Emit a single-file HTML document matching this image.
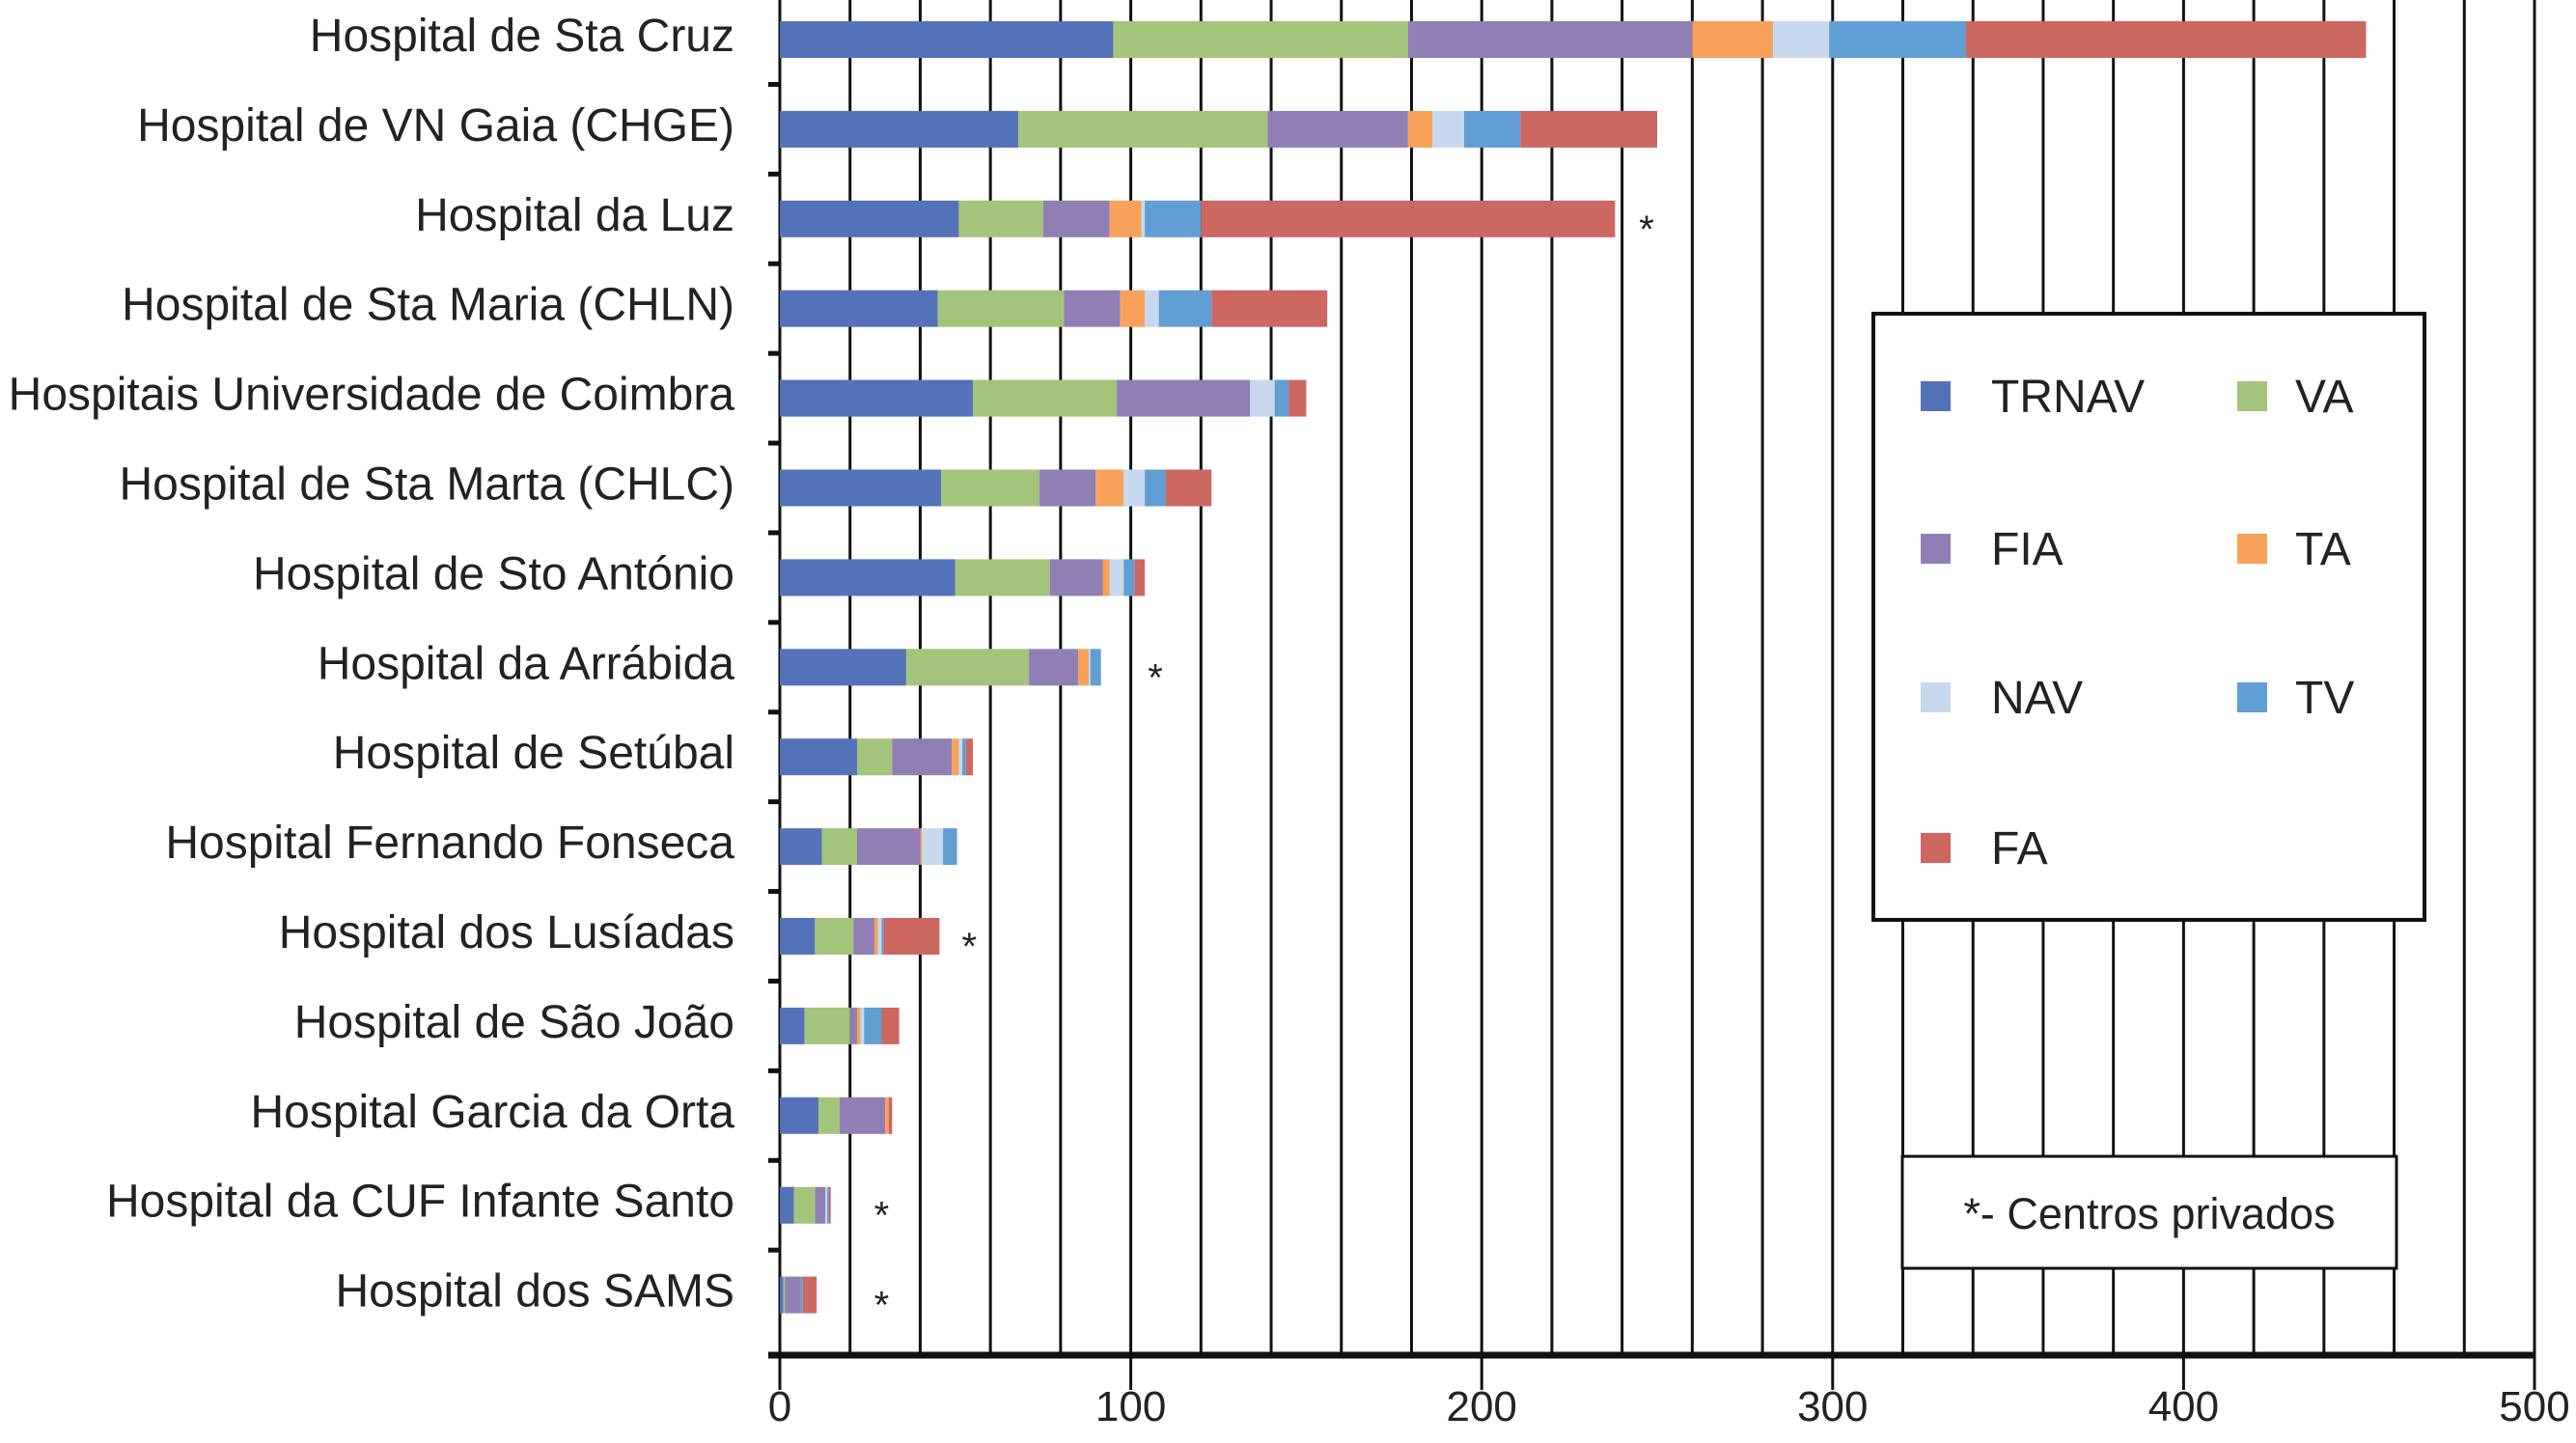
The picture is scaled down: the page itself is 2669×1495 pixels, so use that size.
<!DOCTYPE html>
<html><head><meta charset="utf-8"><style>
html,body{margin:0;padding:0;background:#fff;}
svg{display:block;font-family:"Liberation Sans",sans-serif;}
</style></head><body>
<svg id="chart" width="2669" height="1495" viewBox="0 0 2669 1495" xmlns="http://www.w3.org/2000/svg"></svg>
<script>
const categories = ["Hospital de Sta Cruz","Hospital de VN Gaia (CHGE)","Hospital da Luz","Hospital de Sta Maria (CHLN)","Hospitais Universidade de Coimbra","Hospital de Sta Marta (CHLC)","Hospital de Sto António","Hospital da Arrábida","Hospital de Setúbal","Hospital Fernando Fonseca","Hospital dos Lusíadas","Hospital de São João","Hospital Garcia da Orta","Hospital da CUF Infante Santo","Hospital dos SAMS"];
const seriesNames = ["TRNAV","VA","FIA","TA","NAV","TV","FA"];
const TRNAV = [95,68,51,45,55,46,50,36,22,12,10,7,11,4,1];
const VA    = [84,71,24,36,41,28,27,35,10,10,11,13,6,6,0.5];
const FIA   = [81,40,19,16,38,16,15,14,17,18,6,2,13,3,4.5];
const TA    = [23,7,9,7,0,8,2,3,2,0.5,1,1,1,0,0];
const NAV   = [16,9,1,4,7,6,4,0.5,1,6,1,1,0,0.5,0];
const TV    = [39,16,16,15,4,6,3,3,1,4,0.5,5,0,0.5,0.5];
const FA    = [114,39,118,33,5,13,3,0,2,0,16,5,1,0.5,4];
const privateMarkerAt = [null,null,247,null,null,null,null,107,null,null,54,null,null,29,29];
const xTicks = [0,100,200,300,400,500];
const colors = ["#5472b8","#a3c47b","#907fb4","#f8a15a","#c6d9ef","#609ed3","#cc6762"];
const series = [TRNAV,VA,FIA,TA,NAV,TV,FA];

const svg = document.getElementById('chart');
const NS = "http://www.w3.org/2000/svg";
const X0 = 808, X1 = 2626, YTOP = 0, YAX = 1404;
const x = v => X0 + (v/500)*(X1-X0);
const band = 92.9;
const yc = i => 41 + band*i;
function mk(tag, attrs){const e=document.createElementNS(NS,tag);for(const k in attrs)e.setAttribute(k,attrs[k]);svg.appendChild(e);return e;}

for(let v=20; v<=500; v+=20){
  const g = mk('line',{x1:x(v),x2:x(v),y1:YTOP,y2:YAX,stroke:'#111','stroke-width':3});
  
  
}
const ya = mk('line',{x1:X0,x2:X0,y1:YTOP,y2:YAX,stroke:'#111','stroke-width':3});


for(let i=0;i<categories.length;i++){
  const ty = yc(i)-band/2;
  const t = mk('line',{x1:X0-12,x2:X0,y1:ty,y2:ty,stroke:'#111','stroke-width':5});
  
  
}
categories.forEach((c,i)=>{
  let acc=0;
  series.forEach((s,k)=>{
    const v=s[i];
    if(v>0){
      const r = mk('rect',{x:x(acc),y:yc(i)-19,width:x(acc+v)-x(acc),height:38,fill:colors[k]});
      
      
    }
    acc+=v;
  });
  const lab = mk('text',{x:761,y:yc(i)+12,'text-anchor':'end','font-size':48,fill:'#222'});
  lab.textContent=c;
  
  
  if(privateMarkerAt[i]!==null){
    const st = mk('text',{x:x(privateMarkerAt[i]),y:yc(i)+24,'text-anchor':'middle','font-size':40,fill:'#222'});
    st.textContent='*';
    
    
  }
});
const xa = mk('line',{x1:X0-12,x2:X1,y1:YAX,y2:YAX,stroke:'#111','stroke-width':7});


xTicks.forEach(v=>{
  const t = mk('line',{x1:x(v),x2:x(v),y1:YAX,y2:YAX+36,stroke:'#111','stroke-width':3});
  
  
  const tl = mk('text',{x:x(v),y:1472,'text-anchor':'middle','font-size':44,fill:'#222'});
  tl.textContent=v;
  
  
});
const lb = mk('rect',{x:1941,y:325,width:571,height:628,fill:'#fff',stroke:'#111','stroke-width':4});


const rows=[410,568,722,878];
seriesNames.forEach((n,k)=>{
  const col=k%2,row=Math.floor(k/2);
  const sx= col? 2318:1990, tx= col? 2378:2063;
  const sq = mk('rect',{x:sx,y:rows[row]-15,width:31,height:31,fill:colors[k]});
  
  
  const t = mk('text',{x:tx,y:rows[row]+17,'font-size':48,fill:'#222'});
  t.textContent=n;
  
  
});
const nb = mk('rect',{x:1971,y:1198,width:512,height:116,fill:'#fff',stroke:'#111','stroke-width':3});


const nt = mk('text',{x:2227,y:1273,'text-anchor':'middle','font-size':45,fill:'#222'});
nt.textContent='*- Centros privados';


</script>
</body></html>
